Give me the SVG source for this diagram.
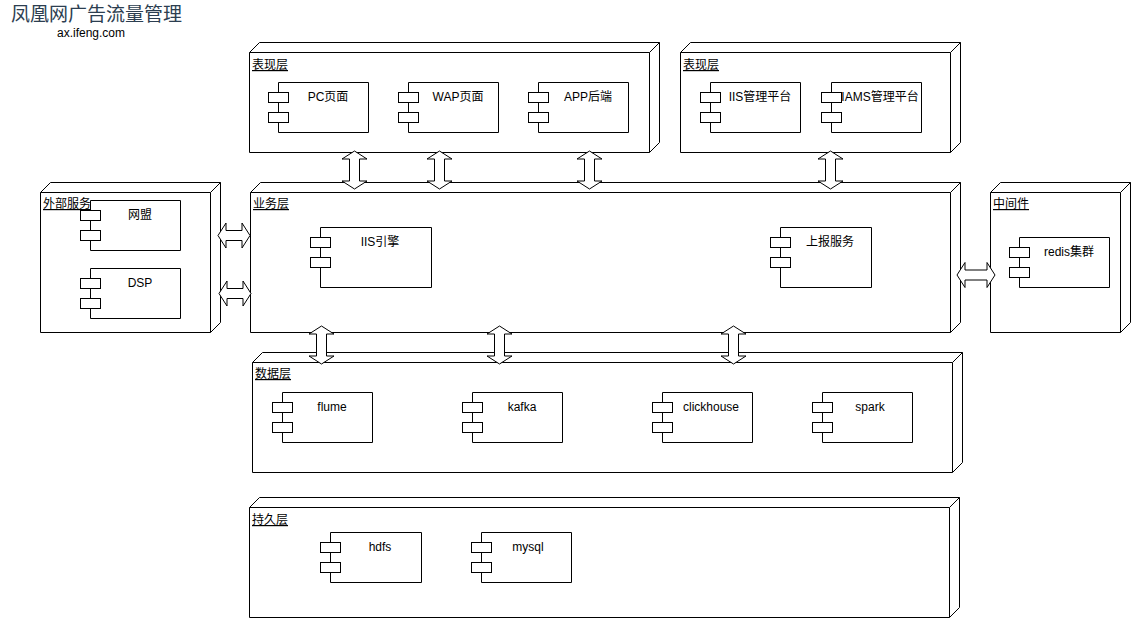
<svg xmlns="http://www.w3.org/2000/svg" width="1131" height="618" viewBox="0 0 1131 618">
<style>
.box{fill:#fff;stroke:#000;stroke-width:1}
.lbl{font-family:"Liberation Sans","Noto Sans CJK SC",sans-serif;font-size:12px;fill:#000}
.ttl{font-family:"Liberation Sans","Noto Sans CJK SC",sans-serif;font-size:12px;fill:#000;text-decoration:underline}
.cl{font-family:"Liberation Sans","Noto Sans CJK SC",sans-serif;font-size:12px;fill:#000;text-anchor:middle}
.arr{fill:#fff;stroke:#000;stroke-width:1}
</style>
<rect width="1131" height="618" fill="#fff"/>
<g id="title">
<text x="11" y="21" style="font-family:'Noto Sans CJK SC','Liberation Sans',sans-serif;font-size:19px;fill:#2c3e50">凤凰网广告流量管理</text>
<text x="91" y="37" class="cl">ax.ifeng.com</text>
</g>
<!-- nodes: 3D boxes -->
<g id="pres1">
<path class="box" d="M249.5,52.5 L259.5,42.5 L659.5,42.5 L659.5,142.5 L649.5,152.5 L249.5,152.5 Z M249.5,52.5 L649.5,52.5 L659.5,42.5 M649.5,52.5 L649.5,152.5"/>
<text x="252" y="69" class="ttl">表现层</text>
</g>
<g id="pres2">
<path class="box" d="M680.5,52.5 L690.5,42.5 L960.5,42.5 L960.5,142.5 L950.5,152.5 L680.5,152.5 Z M680.5,52.5 L950.5,52.5 L960.5,42.5 M950.5,52.5 L950.5,152.5"/>
<text x="683" y="69" class="ttl">表现层</text>
</g>
<g id="ext">
<path class="box" d="M40.5,192.5 L50.5,182.5 L220.5,182.5 L220.5,322.5 L210.5,332.5 L40.5,332.5 Z M40.5,192.5 L210.5,192.5 L220.5,182.5 M210.5,192.5 L210.5,332.5"/>
</g>
<g id="biz">
<path class="box" d="M250.5,192.5 L260.5,182.5 L960.5,182.5 L960.5,322.5 L950.5,332.5 L250.5,332.5 Z M250.5,192.5 L950.5,192.5 L960.5,182.5 M950.5,192.5 L950.5,332.5"/>
<text x="253" y="208" class="ttl">业务层</text>
</g>
<g id="mid">
<path class="box" d="M990.5,192.5 L1000.5,182.5 L1130.5,182.5 L1130.5,322.5 L1120.5,332.5 L990.5,332.5 Z M990.5,192.5 L1120.5,192.5 L1130.5,182.5 M1120.5,192.5 L1120.5,332.5"/>
<text x="993" y="208" class="ttl">中间件</text>
</g>
<g id="data">
<path class="box" d="M252.5,362.5 L262.5,352.5 L962.5,352.5 L962.5,462.5 L952.5,472.5 L252.5,472.5 Z M252.5,362.5 L952.5,362.5 L962.5,352.5 M952.5,362.5 L952.5,472.5"/>
<text x="255" y="378" class="ttl">数据层</text>
</g>
<g id="persist">
<path class="box" d="M249.5,507.5 L259.5,497.5 L959.5,497.5 L959.5,607.5 L949.5,617.5 L249.5,617.5 Z M249.5,507.5 L949.5,507.5 L959.5,497.5 M949.5,507.5 L949.5,617.5"/>
<text x="252" y="524" class="ttl">持久层</text>
</g>
<!-- components -->
<g id="c-pc"><path class="box" d="M278.5,82.5 H368.5 V132.5 H278.5 Z"/><rect class="box" x="268.5" y="92.5" width="20" height="10"/><rect class="box" x="268.5" y="112.5" width="20" height="10"/><text x="328" y="101" class="cl">PC页面</text></g>
<g id="c-wap"><path class="box" d="M408.5,82.5 H498.5 V132.5 H408.5 Z"/><rect class="box" x="398.5" y="92.5" width="20" height="10"/><rect class="box" x="398.5" y="112.5" width="20" height="10"/><text x="458" y="101" class="cl">WAP页面</text></g>
<g id="c-app"><path class="box" d="M538.5,82.5 H628.5 V132.5 H538.5 Z"/><rect class="box" x="528.5" y="92.5" width="20" height="10"/><rect class="box" x="528.5" y="112.5" width="20" height="10"/><text x="588" y="101" class="cl">APP后端</text></g>
<g id="c-iisadmin"><path class="box" d="M710.5,82.5 H800.5 V132.5 H710.5 Z"/><rect class="box" x="700.5" y="92.5" width="20" height="10"/><rect class="box" x="700.5" y="112.5" width="20" height="10"/><text x="760" y="101" class="cl">IIS管理平台</text></g>
<g id="c-iams"><path class="box" d="M831.5,82.5 H921.5 V132.5 H831.5 Z"/><rect class="box" x="821.5" y="92.5" width="20" height="10"/><rect class="box" x="821.5" y="112.5" width="20" height="10"/><text x="880" y="101" class="cl">IAMS管理平台</text></g>
<g id="c-wm"><path class="box" d="M90.5,200.5 H180.5 V250.5 H90.5 Z"/><rect class="box" x="80.5" y="210.5" width="20" height="10"/><rect class="box" x="80.5" y="230.5" width="20" height="10"/><text x="140" y="219" class="cl">网盟</text></g>
<g id="c-dsp"><path class="box" d="M90.5,268.5 H180.5 V318.5 H90.5 Z"/><rect class="box" x="80.5" y="278.5" width="20" height="10"/><rect class="box" x="80.5" y="298.5" width="20" height="10"/><text x="140" y="287" class="cl">DSP</text></g>
<text x="43" y="208" class="ttl">外部服务</text>
<g id="c-iis"><path class="box" d="M320.5,227.5 H431.5 V287.5 H320.5 Z"/><rect class="box" x="310.5" y="237.5" width="20" height="10"/><rect class="box" x="310.5" y="257.5" width="20" height="10"/><text x="380" y="246" class="cl">IIS引擎</text></g>
<g id="c-report"><path class="box" d="M780.5,227.5 H871.5 V287.5 H780.5 Z"/><rect class="box" x="770.5" y="237.5" width="20" height="10"/><rect class="box" x="770.5" y="257.5" width="20" height="10"/><text x="830" y="246" class="cl">上报服务</text></g>
<g id="c-redis"><path class="box" d="M1019.5,237.5 H1109.5 V287.5 H1019.5 Z"/><rect class="box" x="1009.5" y="247.5" width="20" height="10"/><rect class="box" x="1009.5" y="267.5" width="20" height="10"/><text x="1069" y="256" class="cl">redis集群</text></g>
<g id="c-flume"><path class="box" d="M282.5,392.5 H372.5 V442.5 H282.5 Z"/><rect class="box" x="272.5" y="402.5" width="20" height="10"/><rect class="box" x="272.5" y="422.5" width="20" height="10"/><text x="332" y="411" class="cl">flume</text></g>
<g id="c-kafka"><path class="box" d="M472.5,392.5 H562.5 V442.5 H472.5 Z"/><rect class="box" x="462.5" y="402.5" width="20" height="10"/><rect class="box" x="462.5" y="422.5" width="20" height="10"/><text x="522" y="411" class="cl">kafka</text></g>
<g id="c-ch"><path class="box" d="M662.5,392.5 H752.5 V442.5 H662.5 Z"/><rect class="box" x="652.5" y="402.5" width="20" height="10"/><rect class="box" x="652.5" y="422.5" width="20" height="10"/><text x="711" y="411" class="cl">clickhouse</text></g>
<g id="c-spark"><path class="box" d="M822.5,392.5 H912.5 V442.5 H822.5 Z"/><rect class="box" x="812.5" y="402.5" width="20" height="10"/><rect class="box" x="812.5" y="422.5" width="20" height="10"/><text x="870" y="411" class="cl">spark</text></g>
<g id="c-hdfs"><path class="box" d="M330.5,532.5 H421.5 V582.5 H330.5 Z"/><rect class="box" x="320.5" y="542.5" width="20" height="10"/><rect class="box" x="320.5" y="562.5" width="20" height="10"/><text x="380" y="551" class="cl">hdfs</text></g>
<g id="c-mysql"><path class="box" d="M481.5,532.5 H571.5 V582.5 H481.5 Z"/><rect class="box" x="471.5" y="542.5" width="20" height="10"/><rect class="box" x="471.5" y="562.5" width="20" height="10"/><text x="528" y="551" class="cl">mysql</text></g>
<!-- connectors: double arrows -->
<g id="connectors">
<path class="arr" d="M354.5,151 L367,159 L359.5,159 L359.5,181 L367,181 L354.5,189 L342,181 L349.5,181 L349.5,159 L342,159 Z"/>
<path class="arr" d="M439.5,151 L452,159 L444.5,159 L444.5,181 L452,181 L439.5,189 L427,181 L434.5,181 L434.5,159 L427,159 Z"/>
<path class="arr" d="M589.5,151 L602,159 L594.5,159 L594.5,181 L602,181 L589.5,189 L577,181 L584.5,181 L584.5,159 L577,159 Z"/>
<path class="arr" d="M830.5,151 L843,159 L835.5,159 L835.5,181 L843,181 L830.5,189 L818,181 L825.5,181 L825.5,159 L818,159 Z"/>
<path class="arr" d="M321.5,326 L334,334 L326.5,334 L326.5,356 L334,356 L321.5,364 L309,356 L316.5,356 L316.5,334 L309,334 Z"/>
<path class="arr" d="M499.5,326 L512,334 L504.5,334 L504.5,356 L512,356 L499.5,364 L487,356 L494.5,356 L494.5,334 L487,334 Z"/>
<path class="arr" d="M733.5,326 L746,334 L738.5,334 L738.5,356 L746,356 L733.5,364 L721,356 L728.5,356 L728.5,334 L721,334 Z"/>
<path class="arr" d="M218,235.5 L226,223 L226,230.5 L242,230.5 L242,223 L250,235.5 L242,248 L242,240.5 L226,240.5 L226,248 Z"/>
<path class="arr" d="M219,293.5 L227,281 L227,288.5 L243,288.5 L243,281 L251,293.5 L243,306 L243,298.5 L227,298.5 L227,306 Z"/>
<path class="arr" d="M957,275 L965,262.5 L965,270 L987,270 L987,262.5 L995,275 L987,287.5 L987,280 L965,280 L965,287.5 Z"/>
</g>
</svg>
